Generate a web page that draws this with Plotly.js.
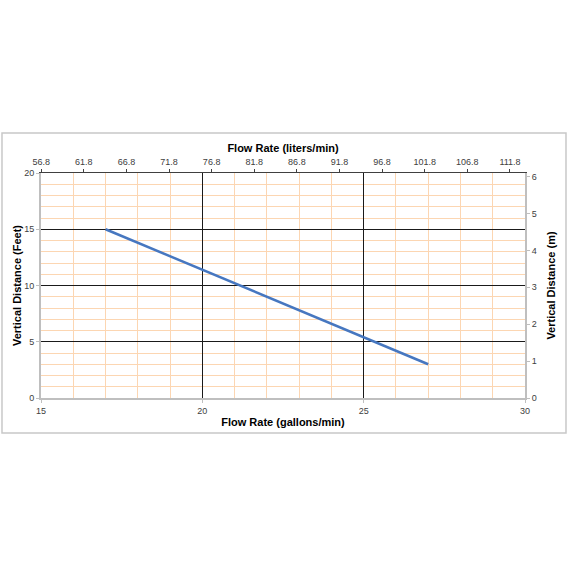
<!DOCTYPE html>
<html>
<head>
<meta charset="utf-8">
<script src="https://cdn.plot.ly/plotly-3.0.1.min.js"></script>
<style>html,body{margin:0;padding:0;background:#fff;}#chart{width:567px;height:567px;}</style>
</head>
<body>
<div id="chart"></div>
<script>
// Data
const flowGpm = [17, 27];
const distanceFt = [15, 3];
const GAL_TO_L = 3.78541;
const FT_TO_M = 0.3048;
const flowLpm = flowGpm.map(v => v * GAL_TO_L);
const distanceM = distanceFt.map(v => v * FT_TO_M);

const tickFont = {family: 'Liberation Sans, Arial, sans-serif', size: 9, color: '#404040'};
const titleFont = {family: 'Liberation Sans, Arial, sans-serif', size: 11, color: '#000', weight: 'bold'};

const traces = [
  {x: flowGpm, y: distanceFt, type: 'scatter', mode: 'lines',
   line: {color: '#4677c0', width: 2.5}, hoverinfo: 'skip', showlegend: false},
  {x: flowLpm, y: distanceM, type: 'scatter', mode: 'lines', xaxis: 'x2', yaxis: 'y2',
   line: {color: 'rgba(0,0,0,0)', width: 0}, hoverinfo: 'skip', showlegend: false}
];

const layout = {
  width: 567, height: 567,
  margin: {l: 41, r: 42, t: 173, b: 169},
  paper_bgcolor: '#fff', plot_bgcolor: '#fff',
  showlegend: false,
  xaxis: {
    range: [15, 30], tick0: 15, dtick: 5, side: 'bottom',
    showgrid: true, gridcolor: '#1a1a1a', gridwidth: 1.2,
    minor: {dtick: 1, showgrid: true, gridcolor: '#fcd6b2', gridwidth: 1},
    showline: true, linecolor: '#bfbfbf', linewidth: 2,
    ticks: 'outside', ticklen: 3, tickcolor: '#bfbfbf',
    zeroline: false, tickfont: tickFont,
    title: {text: 'Flow Rate (gallons/min)', font: titleFont, standoff: 4}
  },
  yaxis: {
    range: [0, 20], tick0: 0, dtick: 5,
    showgrid: true, gridcolor: '#1a1a1a', gridwidth: 1.2,
    minor: {dtick: 1, showgrid: true, gridcolor: '#fcd6b2', gridwidth: 1},
    showline: true, linecolor: '#bfbfbf', linewidth: 2,
    ticks: 'outside', ticklen: 3, tickcolor: '#bfbfbf',
    zeroline: false, tickfont: tickFont,
    title: {text: 'Vertical Distance (Feet)', font: titleFont, standoff: 0}
  },
  xaxis2: {
    overlaying: 'x', side: 'top', anchor: 'y2',
    range: [15 * GAL_TO_L, 30 * GAL_TO_L], tick0: 56.8, dtick: 5, tickformat: '.1f',
    showgrid: false, showline: true, linecolor: '#404040', linewidth: 1.5,
    ticks: 'outside', ticklen: 3, tickcolor: '#404040',
    zeroline: false, tickfont: tickFont,
    title: {text: 'Flow Rate (liters/min)', font: titleFont, standoff: 2}
  },
  yaxis2: {
    overlaying: 'y', side: 'right', anchor: 'x2',
    range: [0, 20 * FT_TO_M], tick0: 0, dtick: 1,
    showgrid: false, showline: true, linecolor: '#bfbfbf', linewidth: 2,
    ticks: 'outside', ticklen: 3, tickcolor: '#bfbfbf',
    zeroline: false, tickfont: tickFont,
    title: {text: 'Vertical Distance (m)', font: titleFont, standoff: 11}
  },
  shapes: [{
    type: 'rect', xref: 'paper', yref: 'paper',
    x0: -0.0806, x1: 1.0847, y0: -0.1556, y1: 1.1778,
    line: {color: '#c8c8c8', width: 1.5}, fillcolor: 'rgba(0,0,0,0)', layer: 'below'
  }]
};

Plotly.newPlot('chart', traces, layout, {displayModeBar: false, staticPlot: true});
</script>
</body>
</html>
